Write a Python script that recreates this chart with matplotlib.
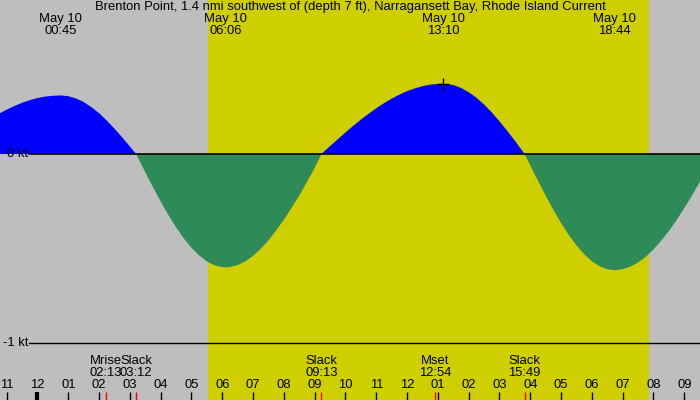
import matplotlib.pyplot as plt
import matplotlib.transforms as mtransforms

plt.rcParams['font.family'] = ['Liberation Sans', 'DejaVu Sans']

title = "Brenton Point, 1.4 nmi southwest of (depth 7 ft), Narragansett Bay, Rhode Island Current"

# hours after midnight, May 10 / current speed in knots (flood +, ebb -)
curve_hours = [-1.5, -1.25, -1.0, -0.75, -0.5, -0.25, 0.0, 0.25, 0.5, 0.75,
               1.0, 1.25, 1.5, 1.75, 2.0, 2.25, 2.5, 2.75, 3.0, 3.2,
               3.5, 3.75, 4.0, 4.25, 4.5, 4.75, 5.0, 5.25, 5.5, 5.75, 6.0, 6.1,
               6.25, 6.5, 6.75, 7.0, 7.25, 7.5, 7.75, 8.0, 8.25, 8.5, 8.75, 9.0, 9.217,
               9.5, 9.75, 10.0, 10.25, 10.5, 10.75, 11.0, 11.25, 11.5, 11.75,
               12.0, 12.25, 12.5, 12.75, 13.0, 13.167,
               13.5, 13.75, 14.0, 14.25, 14.5, 14.75, 15.0, 15.25, 15.5, 15.817,
               16.0, 16.25, 16.5, 16.75, 17.0, 17.25, 17.5, 17.75, 18.0, 18.25, 18.5, 18.733,
               19.0, 19.25, 19.5, 19.75, 20.0, 20.25, 20.5, 20.75, 21.0, 21.25, 21.5, 21.75, 22.0]
curve_kt = [0.189, 0.213, 0.235, 0.254, 0.271, 0.285, 0.296, 0.304, 0.308, 0.310,
            0.306, 0.294, 0.275, 0.248, 0.216, 0.177, 0.134, 0.088, 0.040, 0.0,
            -0.097, -0.176, -0.252, -0.323, -0.388, -0.447, -0.497, -0.537, -0.569, -0.589, -0.599, -0.600,
            -0.598, -0.588, -0.568, -0.539, -0.502, -0.457, -0.404, -0.348, -0.285, -0.220, -0.148, -0.074, 0.0,
            0.042, 0.078, 0.114, 0.149, 0.182, 0.213, 0.242, 0.269, 0.293, 0.314,
            0.333, 0.347, 0.359, 0.367, 0.371, 0.372,
            0.365, 0.350, 0.327, 0.298, 0.262, 0.220, 0.173, 0.123, 0.070, 0.0,
            -0.061, -0.142, -0.221, -0.296, -0.366, -0.429, -0.484, -0.531, -0.568, -0.594, -0.610, -0.615,
            -0.610, -0.596, -0.574, -0.544, -0.505, -0.459, -0.407, -0.350, -0.286, -0.220, -0.149, -0.077, -0.003]

peak_hours = [0.75, 6.1, 13.167, 18.733]
peak_labels = ["00:45", "06:06", "13:10", "18:44"]

event_names = ["Mrise", "Slack", "Slack", "Mset", "Slack", "Slack"]
event_hours = [2.217, 3.2, 9.217, 12.9, 15.817, 22.017]
event_labels = ["02:13", "03:12", "09:13", "12:54", "15:49", "22:01"]

hour_ticks = list(range(-1, 22))
hour_labels = ["11", "12", "01", "02", "03", "04", "05", "06", "07", "08", "09", "10",
               "11", "12", "01", "02", "03", "04", "05", "06", "07", "08", "09"]

sunrise, sunset = 5.53, 19.85
now_hour, now_kt = 13.167, 0.372

fig = plt.figure(figsize=(7, 4), dpi=100)
fig.patch.set_facecolor('#bebebe')
ax = fig.add_axes([0, 0, 1, 1])
ax.set_facecolor('#bebebe')
ax.set_xlim(-1.2175, 21.51)
ax.set_ylim(-1.302, 0.815)
ax.axis('off')

ax.axvspan(sunrise, sunset, color='#cfcf00', lw=0, zorder=0)

ax.fill_between(curve_hours, curve_kt, 0, where=[v >= 0 for v in curve_kt],
                interpolate=True, color='#0000ff', lw=0, zorder=1)
ax.fill_between(curve_hours, curve_kt, 0, where=[v <= 0 for v in curve_kt],
                interpolate=True, color='#2e8b57', lw=0, zorder=1)

ax.axhline(0, xmin=0.041, xmax=1, color='black', lw=1.2, zorder=2)
ax.axhline(-1, xmin=0.041, xmax=1, color='black', lw=1.0, zorder=2)
ytrans = mtransforms.blended_transform_factory(ax.transAxes, ax.transData)
ax.text(0.040, 0, "0 kt", transform=ytrans, ha='right', va='center', fontsize=9.4)
ax.text(0.040, -1, "-1 kt", transform=ytrans, ha='right', va='center', fontsize=9.4)

ax.plot([now_hour], [now_kt], marker='+', color='black', markersize=9, mew=1, zorder=3)

trans = mtransforms.blended_transform_factory(ax.transData, ax.transAxes)

ax.text(0.501, 0.9825, title, transform=ax.transAxes, ha='center', va='center', fontsize=9.4)
for h, lab in zip(peak_hours, peak_labels):
    ax.text(h, 0.9525, "May 10", transform=trans, ha='center', va='center', fontsize=9.4)
    ax.text(h, 0.9225, lab, transform=trans, ha='center', va='center', fontsize=9.4)

for name, h, lab in zip(event_names, event_hours, event_labels):
    ax.text(h, 0.0975, name, transform=trans, ha='center', va='center', fontsize=9.4)
    ax.text(h, 0.0675, lab, transform=trans, ha='center', va='center', fontsize=9.4)

for h, lab in zip(hour_ticks, hour_labels):
    ax.text(h, 0.0375, lab, transform=trans, ha='center', va='center', fontsize=9.4)
    ax.vlines(h, 0, 0.02, transform=trans, color='black', lw=3 if h == 0 else 1)

ax.vlines(event_hours, 0, 0.02, transform=trans, color='red', lw=1)

fig.savefig('out.png', dpi=100)
